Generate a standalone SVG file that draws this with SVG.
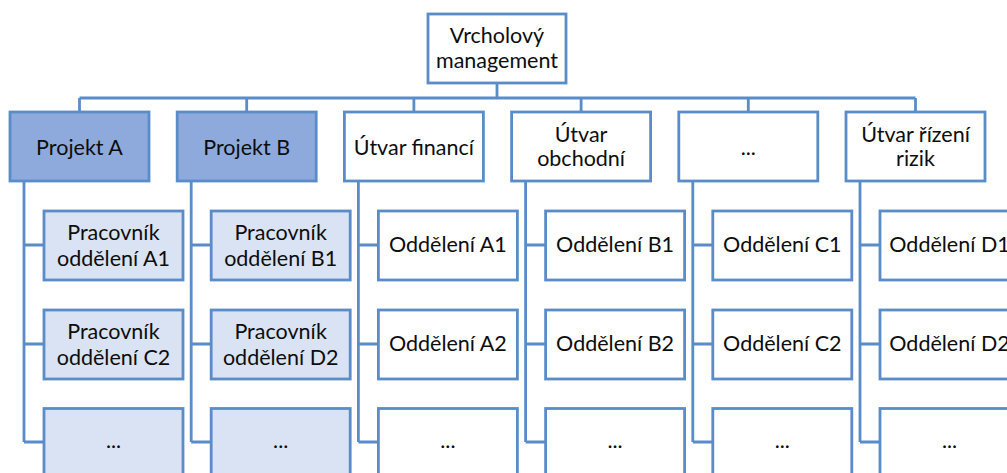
<svg xmlns="http://www.w3.org/2000/svg" width="1007" height="473" viewBox="0 0 1007 473">
  <style>
    .box { stroke: #5a8cc8; stroke-width: 2.8; }
    .plain { fill: #ffffff; }
    .dark { fill: #8eaadc; }
    .light { fill: #dae3f3; }
    .lbl { font-family: Lato, "Liberation Sans", sans-serif; font-size: 21.5px; fill: #0d0d0d; text-anchor: middle; }
    .wire { fill: none; stroke: #5a8cc8; stroke-width: 2.8; }
  </style>
  <rect width="1007" height="473" fill="#ffffff"/>

  <!-- connectors -->
  <g id="connectors" class="wire">
    <path d="M497 83V98M79.5 98H915.5"/>
    <path d="M79.5 98V112M246.7 98V112M413.9 98V112M581.1 98V112M748.3 98V112M915.5 98V112"/>
    <path d="M24 181V442M24 245H44M24 344H44M24 442H44"/>
    <path d="M191.2 181V442M191.2 245H211.2M191.2 344H211.2M191.2 442H211.2"/>
    <path d="M358.4 181V442M358.4 245H378.4M358.4 344H378.4M358.4 442H378.4"/>
    <path d="M525.6 181V442M525.6 245H545.6M525.6 344H545.6M525.6 442H545.6"/>
    <path d="M692.8 181V442M692.8 245H712.8M692.8 344H712.8M692.8 442H712.8"/>
    <path d="M860 181V442M860 245H880M860 344H880M860 442H880"/>
  </g>

  <!-- top level -->
  <g id="top">
    <rect class="box plain" x="428" y="14" width="138" height="69"/>
    <text class="lbl" x="497" y="43">Vrcholový</text>
    <text class="lbl" x="497" y="68">management</text>
  </g>

  <!-- second level -->
  <g id="projektA">
    <rect class="box dark" x="10" y="112" width="139" height="69"/>
    <text class="lbl" x="79.5" y="154.5">Projekt A</text>
  </g>
  <g id="projektB">
    <rect class="box dark" x="177.2" y="112" width="139" height="69"/>
    <text class="lbl" x="246.7" y="154.5">Projekt B</text>
  </g>
  <g id="utvarFinanci">
    <rect class="box plain" x="344.4" y="112" width="139" height="69"/>
    <text class="lbl" x="413.9" y="154.5">Útvar financí</text>
  </g>
  <g id="utvarObchodni">
    <rect class="box plain" x="511.6" y="112" width="139" height="69"/>
    <text class="lbl" x="581.1" y="141.5">Útvar</text>
    <text class="lbl" x="581.1" y="166">obchodní</text>
  </g>
  <g id="utvarDalsi">
    <rect class="box plain" x="678.8" y="112" width="139" height="69"/>
    <text class="lbl" x="748.3" y="154.5">...</text>
  </g>
  <g id="utvarRizik">
    <rect class="box plain" x="846" y="112" width="139" height="69"/>
    <text class="lbl" x="915.5" y="141.5">Útvar řízení</text>
    <text class="lbl" x="915.5" y="166">rizik</text>
  </g>

  <!-- project staff -->
  <g id="pracovnikA1">
    <rect class="box light" x="44" y="211" width="139" height="69"/>
    <text class="lbl" x="113.5" y="240">Pracovník</text>
    <text class="lbl" x="113.5" y="266">oddělení A1</text>
  </g>
  <g id="pracovnikC2">
    <rect class="box light" x="44" y="310" width="139" height="69"/>
    <text class="lbl" x="113.5" y="339">Pracovník</text>
    <text class="lbl" x="113.5" y="365">oddělení C2</text>
  </g>
  <g id="pracovnikAdalsi">
    <rect class="box light" x="44" y="408.5" width="139" height="80"/>
    <text class="lbl" x="113.5" y="448">...</text>
  </g>
  <g id="pracovnikB1">
    <rect class="box light" x="211.2" y="211" width="139" height="69"/>
    <text class="lbl" x="280.7" y="240">Pracovník</text>
    <text class="lbl" x="280.7" y="266">oddělení B1</text>
  </g>
  <g id="pracovnikD2">
    <rect class="box light" x="211.2" y="310" width="139" height="69"/>
    <text class="lbl" x="280.7" y="339">Pracovník</text>
    <text class="lbl" x="280.7" y="365">oddělení D2</text>
  </g>
  <g id="pracovnikBdalsi">
    <rect class="box light" x="211.2" y="408.5" width="139" height="80"/>
    <text class="lbl" x="280.7" y="448">...</text>
  </g>

  <!-- departments -->
  <g id="oddeleniA1">
    <rect class="box plain" x="378.4" y="211" width="139" height="69"/>
    <text class="lbl" x="447.9" y="251.5">Oddělení A1</text>
  </g>
  <g id="oddeleniA2">
    <rect class="box plain" x="378.4" y="310" width="139" height="69"/>
    <text class="lbl" x="447.9" y="350.5">Oddělení A2</text>
  </g>
  <g id="oddeleniAdalsi">
    <rect class="box plain" x="378.4" y="408.5" width="139" height="80"/>
    <text class="lbl" x="447.9" y="448">...</text>
  </g>
  <g id="oddeleniB1">
    <rect class="box plain" x="545.6" y="211" width="139" height="69"/>
    <text class="lbl" x="615.1" y="251.5">Oddělení B1</text>
  </g>
  <g id="oddeleniB2">
    <rect class="box plain" x="545.6" y="310" width="139" height="69"/>
    <text class="lbl" x="615.1" y="350.5">Oddělení B2</text>
  </g>
  <g id="oddeleniBdalsi">
    <rect class="box plain" x="545.6" y="408.5" width="139" height="80"/>
    <text class="lbl" x="615.1" y="448">...</text>
  </g>
  <g id="oddeleniC1">
    <rect class="box plain" x="712.8" y="211" width="139" height="69"/>
    <text class="lbl" x="782.3" y="251.5">Oddělení C1</text>
  </g>
  <g id="oddeleniC2">
    <rect class="box plain" x="712.8" y="310" width="139" height="69"/>
    <text class="lbl" x="782.3" y="350.5">Oddělení C2</text>
  </g>
  <g id="oddeleniCdalsi">
    <rect class="box plain" x="712.8" y="408.5" width="139" height="80"/>
    <text class="lbl" x="782.3" y="448">...</text>
  </g>
  <g id="oddeleniD1">
    <rect class="box plain" x="880" y="211" width="139" height="69"/>
    <text class="lbl" x="949.5" y="251.5">Oddělení D1</text>
  </g>
  <g id="oddeleniD2">
    <rect class="box plain" x="880" y="310" width="139" height="69"/>
    <text class="lbl" x="949.5" y="350.5">Oddělení D2</text>
  </g>
  <g id="oddeleniDdalsi">
    <rect class="box plain" x="880" y="408.5" width="139" height="80"/>
    <text class="lbl" x="949.5" y="448">...</text>
  </g>
</svg>
